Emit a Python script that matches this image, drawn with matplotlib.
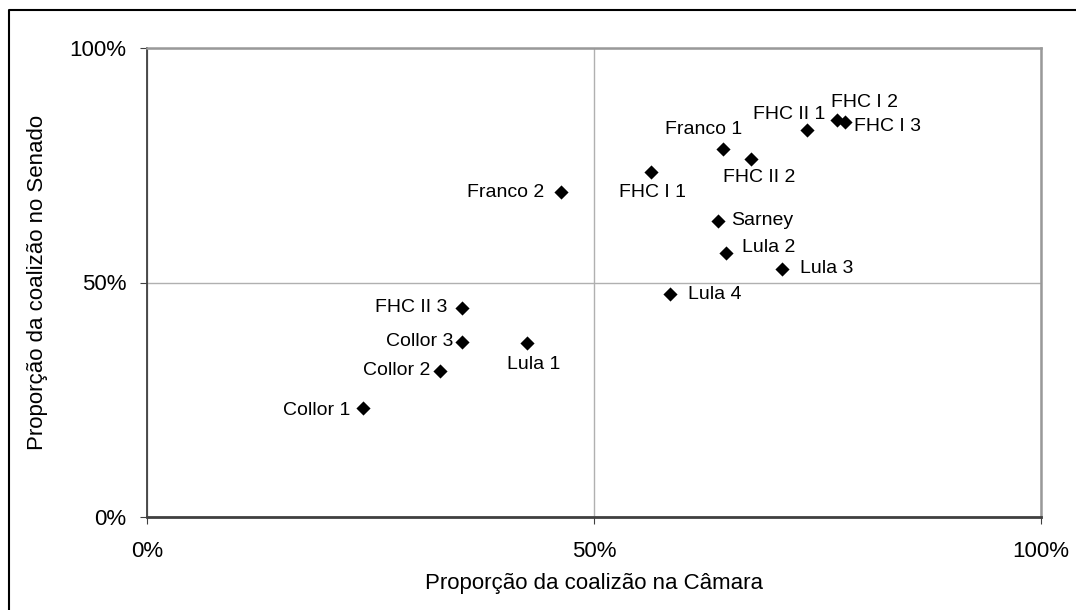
import numpy as np
import matplotlib
matplotlib.use("Agg")
import matplotlib.pyplot as plt
from matplotlib.ticker import FuncFormatter
from matplotlib.lines import Line2D

plt.rcParams["font.family"] = ["Liberation Sans", "DejaVu Sans"]

# coalition share in the Chamber (x) and Senate (y), percent
labels = ["Collor 1", "Collor 2", "Collor 3", "FHC II 3", "Lula 1", "Franco 2",
          "FHC I 1", "Franco 1", "FHC II 2", "FHC II 1", "FHC I 2", "FHC I 3",
          "Sarney", "Lula 2", "Lula 3", "Lula 4"]
camara = [24.2, 32.8, 35.2, 35.2, 42.5, 46.3,
          56.4, 64.4, 67.6, 73.8, 77.2, 78.1,
          63.9, 64.8, 71.0, 58.5]
senado = [23.3, 31.2, 37.4, 44.6, 37.2, 69.2,
          73.6, 78.4, 76.3, 82.5, 84.6, 84.2,
          63.2, 56.3, 52.9, 47.5]

# label offsets in points and alignment
offsets = {
    "Collor 1": (-9, -2, "right"),
    "Collor 2": (-7, 0, "right"),
    "Collor 3": (-6, 0, "right"),
    "FHC II 3": (-10, 0, "right"),
    "Lula 1": (5, -16, "center"),
    "Franco 2": (-12, 0, "right"),
    "FHC I 1": (1, -15, "center"),
    "Franco 1": (-14, 14, "center"),
    "FHC II 2": (6, -13, "center"),
    "FHC II 1": (-13, 11, "center"),
    "FHC I 2": (20, 13, "center"),
    "FHC I 3": (6, -3, "left"),
    "Sarney": (9, 0, "left"),
    "Lula 2": (11, 4, "left"),
    "Lula 3": (13, 0, "left"),
    "Lula 4": (13, 0, "left"),
}

fig = plt.figure(figsize=(10.76, 6.10), dpi=100)
ax = fig.add_axes([147 / 1076, 1 - 517 / 610, (1041 - 147) / 1076, (517 - 48) / 610])

ax.scatter(camara, senado, marker="D", s=52, color="black", zorder=3, linewidths=0)

for name, x, y in zip(labels, camara, senado):
    dx, dy, ha = offsets[name]
    ax.annotate(name, (x, y), xytext=(dx, dy), textcoords="offset points",
                ha=ha, va="center", fontsize=14)

ax.set_xlim(0, 100)
ax.set_ylim(0, 100)
ax.set_xticks([0, 50, 100])
ax.set_yticks([0, 50, 100])
pct = FuncFormatter(lambda v, p: f"{v:.0f}%")
ax.xaxis.set_major_formatter(pct)
ax.yaxis.set_major_formatter(pct)

ax.grid(True, color="#b0b0b0", linewidth=1)
ax.set_axisbelow(True)
for side in ["top", "right"]:
    ax.spines[side].set_color("#999999")
    ax.spines[side].set_linewidth(1.8)
ax.spines["left"].set_color("#404040")
ax.spines["left"].set_linewidth(1.3)
ax.spines["bottom"].set_color("#404040")
ax.spines["bottom"].set_linewidth(2)

ax.tick_params(axis="y", length=5, color="#404040", labelsize=16, pad=10)
ax.tick_params(axis="x", length=5, color="#404040", labelsize=16, pad=12)

ax.set_xlabel("Proporção da coalizão na Câmara", fontsize=16, labelpad=8)
ax.set_ylabel("Proporção da coalizão no Senado", fontsize=16, labelpad=15)

# outer chart border (only top and left edges visible)
fig.add_artist(Line2D([9 / 1076, 9 / 1076, 1.0], [0.0, 1 - 10 / 610, 1 - 10 / 610],
                      transform=fig.transFigure, color="black", linewidth=1.5))

fig.savefig("out.png", dpi=100)
